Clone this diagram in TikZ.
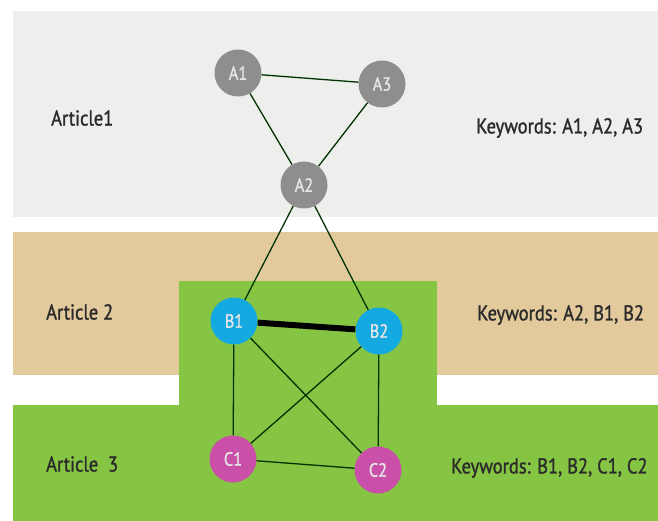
\documentclass[tikz,border=0pt]{standalone}
\usepackage{fontspec}
\setmainfont{PT Sans}[FakeStretch=0.86,FakeBold=1.2]
\usetikzlibrary{positioning}
\definecolor{bandgrey}{HTML}{EEEEED}
\definecolor{bandtan}{HTML}{E3CA9C}
\definecolor{bandgreen}{HTML}{86C443}
\definecolor{nodegrey}{HTML}{8E8E8E}
\definecolor{nodeblue}{HTML}{14A9E1}
\definecolor{nodepink}{HTML}{C94FA8}
\tikzset{
kwnode/.style={
  circle,
  inner sep=0pt,
  minimum size=47pt,
  text={rgb:white,9;black,1},
  font=\fontsize{19}{19}\selectfont,
  }
}
\tikzset{
kwline/.style={
  line width=1.3pt,
  draw={rgb:black,4;green,1},
  }
}
\tikzset{
labeltext/.style={
  anchor=west,
  inner sep=0pt,
  text={rgb:black,5;white,1},
  font=\fontsize{21.5}{21.5}\selectfont,
  }
}

\begin{document}
\begin{tikzpicture}[x=1pt,y=-1pt]
    \useasboundingbox (0,0) rectangle (658,521);
    % article bands
    \path [fill=bandgrey] (13,11) rectangle (658,217);
    \path [fill=bandtan] (13,232) rectangle (658,375);
    \path [fill=bandgreen] (13,405) rectangle (658,521);
    \path [fill=bandgreen] (179,281) rectangle (437,405);

    % band labels
    \node[labeltext] (art1) at (51,118) {Article1};
    \node[labeltext] (art2) at (46,312) {Article 2};
    \node[labeltext] (art3) at (46,464) {Article\ \ 3};
    \node[labeltext] (kw1) at (476,128) {Keywords: A1, A2, A3};
    \node[labeltext] (kw2) at (477,315) {Keywords: A2, B1, B2};
    \node[labeltext] (kw3) at (451,468) {Keywords: B1, B2, C1, C2};

    % keyword nodes
    \node[kwnode, fill=nodegrey] (a1) at (238,73) {A1};
    \node[kwnode, fill=nodegrey] (a3) at (382,84) {A3};
    \node[kwnode, fill=nodegrey] (a2) at (304,185) {A2};
    \node[kwnode, fill=nodeblue] (b1) at (234,321) {B1};
    \node[kwnode, fill=nodeblue] (b2) at (379,331) {B2};
    \node[kwnode, fill=nodepink] (c1) at (233,459) {C1};
    \node[kwnode, fill=nodepink] (c2) at (378,470) {C2};

    % co-occurrence edges
    \draw[kwline] (a1) -- (a3);
    \draw[kwline] (a1) -- (a2);
    \draw[kwline] (a3) -- (a2);
    \draw[kwline] (a2) -- (b1);
    \draw[kwline] (a2) -- (b2);
    \draw[kwline, line width=6pt, draw=black] (b1) -- (b2);
    \draw[kwline] (b1) -- (c1);
    \draw[kwline] (b1) -- (c2);
    \draw[kwline] (b2) -- (c1);
    \draw[kwline] (b2) -- (c2);
    \draw[kwline] (c1) -- (c2);
\end{tikzpicture}
\end{document}
